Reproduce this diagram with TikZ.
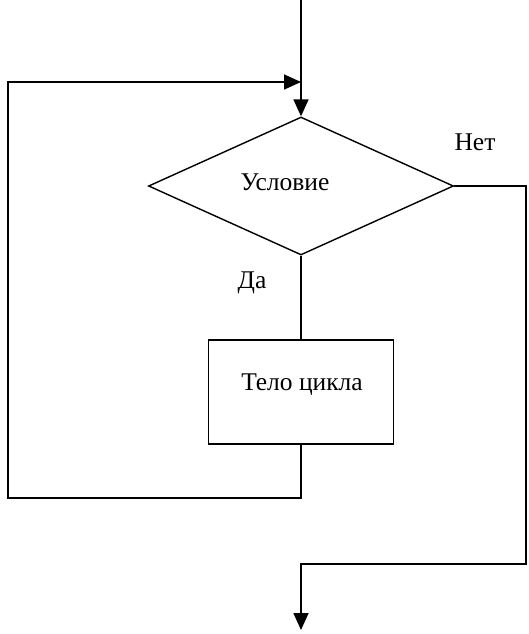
\documentclass[tikz,border=0pt]{standalone}
\usepackage{fontspec}
\setmainfont{Liberation Serif}
\usetikzlibrary{shapes.geometric,arrows.meta}
\begin{document}
\begin{tikzpicture}[x=1pt,y=-1pt,
  line/.style={line width=1.7pt},
  arr/.style={line width=1.7pt,-{Triangle[length=17pt,width=15pt]}},
  txt/.style={font=\fontsize{25.5}{28}\selectfont, inner sep=0pt},
  dia/.style={draw, line width=1.4pt, diamond, inner sep=0pt, minimum width=305pt, minimum height=138pt},
  blk/.style={draw, line width=1.7pt, rectangle, inner sep=0pt, minimum width=185pt, minimum height=104pt}]
\useasboundingbox (0,0) rectangle (529,634);
\fill[white] (0,0) rectangle (529,634);
\node[dia] (d) at (301,186) {};
\node[txt] (cond) at (285,182) {Условие};
\node[blk] (b) at (301,392) {};
\node[txt] (body) at (302,385) {Тело цикла};
\node[txt] (no) at (475,142) {Нет};
\node[txt] (yes) at (252,283) {Да};
\coordinate (top) at (301,0);
\coordinate (j) at (301,82);
\coordinate (e) at (301,630);
\draw[arr] (top) -- (d.north);
\draw[line] (d.south) -- (b.north);
\draw[arr] (b.south) -- (301,498) -- (8,498) -- (8,82) -- (j);
\draw[arr] (d.east) -- (526,186) -- (526,564) -- (301,564) -- (e);
\end{tikzpicture}
\end{document}
